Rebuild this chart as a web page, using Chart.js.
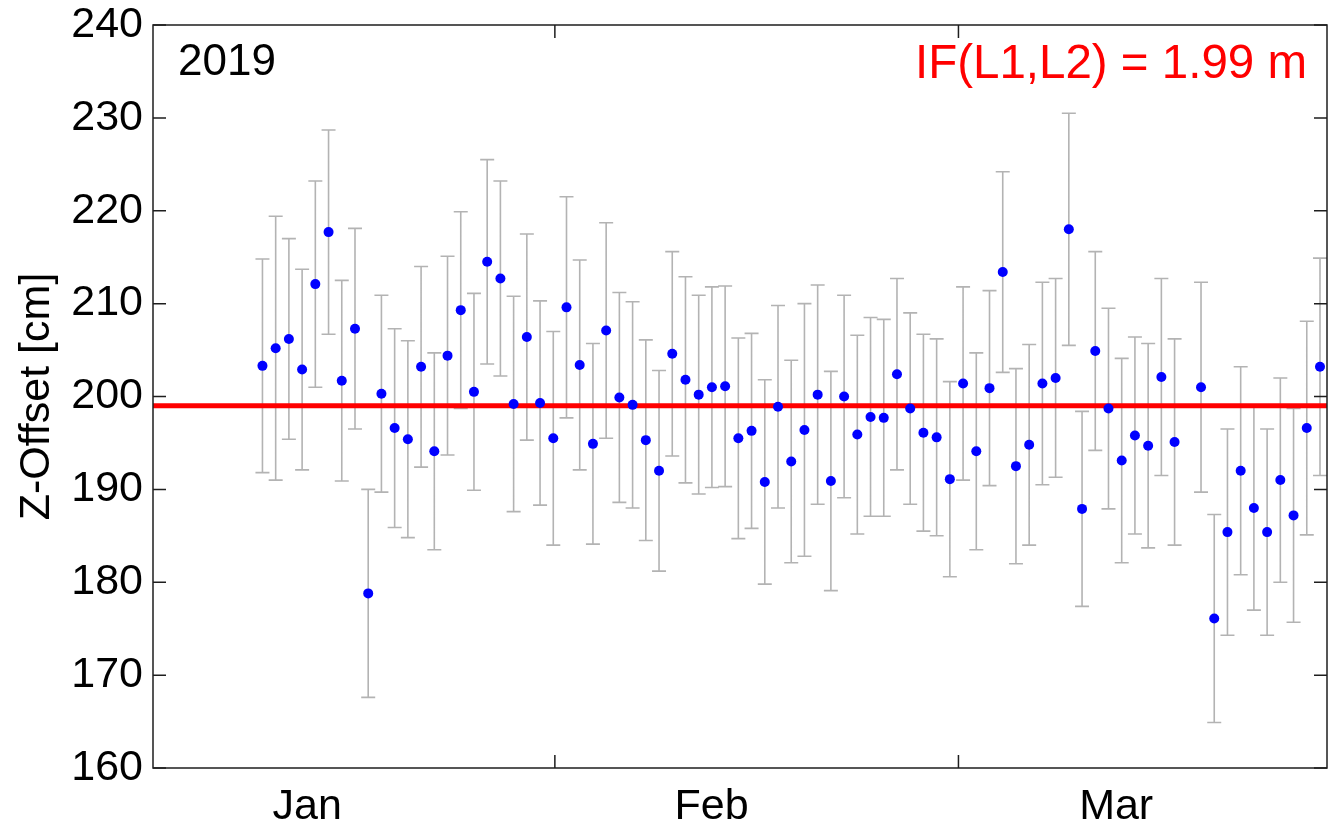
<!DOCTYPE html>
<html>
<head>
<meta charset="utf-8">
<title>Z-Offset 2019</title>
<script src="https://cdn.jsdelivr.net/npm/chart.js@4.4.1/dist/chart.umd.min.js"></script>
<style>
  html, body { margin: 0; padding: 0; background: #ffffff; }
  #wrap { width: 1338px; height: 827px; }
</style>
</head>
<body>
<div id="wrap"><canvas id="chart" width="1338" height="827"></canvas></div>
<script>
// Day of year 2019 for each daily solution (no solution on day 79)
const dayOfYear = [
   9, 10, 11, 12, 13, 14, 15, 16, 17, 18, 19, 20, 21, 22, 23, 24, 25, 26, 27, 28,
  29, 30, 31, 32, 33, 34, 35, 36, 37, 38, 39, 40, 41, 42, 43, 44, 45, 46, 47, 48,
  49, 50, 51, 52, 53, 54, 55, 56, 57, 58, 59, 60, 61, 62, 63, 64, 65, 66, 67, 68,
  69, 70, 71, 72, 73, 74, 75, 76, 77, 78, 80, 81, 82, 83, 84, 85, 86, 87, 88, 89
];

// Estimated antenna Z-offset per day [cm]
const zOffset = [
  203.3, 205.2, 206.2, 202.9, 212.1, 217.7, 201.7, 207.3, 178.8, 200.3,
  196.6, 195.4, 203.2, 194.1, 204.4, 209.3, 200.5, 214.5, 212.7, 199.2,
  206.4, 199.3, 195.5, 209.6, 203.4, 194.9, 207.1, 199.9, 199.1, 195.3,
  192.0, 204.6, 201.8, 200.2, 201.0, 201.1, 195.5, 196.3, 190.8, 198.9,
  193.0, 196.4, 200.2, 190.9, 200.0, 195.9, 197.8, 197.7, 202.4, 198.7,
  196.1, 195.6, 191.1, 201.4, 194.1, 200.9, 213.4, 192.5, 194.8, 201.4,
  202.0, 218.0, 187.9, 204.9, 198.7, 193.1, 195.8, 194.7, 202.1, 195.1,
  201.0, 176.1, 185.4, 192.0, 188.0, 185.4, 191.0, 187.2, 196.6, 203.2
];

// Formal 1-sigma uncertainty of each estimate [cm]
const sigma = [
  11.5, 14.2, 10.8, 10.8, 11.1, 11.0, 10.8, 10.8, 11.2, 10.6,
  10.7, 10.6, 10.8, 10.6, 10.7, 10.6, 10.6, 11.0, 10.5, 11.6,
  11.1, 11.0, 11.5, 11.9, 11.3, 10.8, 11.6, 11.3, 11.1, 10.8,
  10.8, 11.0, 11.1, 10.7, 10.8, 10.8, 10.8, 10.5, 11.0, 10.9,
  10.9, 13.6, 11.8, 11.8, 10.9, 10.7, 10.7, 10.6, 10.3, 10.3,
  10.6, 10.6, 10.5, 10.4, 10.6, 10.5, 10.8, 10.5, 10.8, 10.9,
  10.7, 12.5, 10.5, 10.7, 10.8, 11.0, 10.6, 11.0, 10.6, 11.1,
  11.3, 11.2, 11.1, 11.2, 11.0, 11.1, 11.0, 11.5, 11.5, 11.7
];

// Ionosphere-free L1/L2 solution [cm]
const meanOffset = 199;

const yearLabel = '2019';
const solutionLabel = 'IF(L1,L2) = ' + (meanOffset / 100).toFixed(2) + ' m';

// Month names, where they are written, and the month boundaries (day of year)
const monthNames = ['Jan', 'Feb', 'Mar'];
const monthLabelDays = [12.39, 42.98, 73.58];
const monthBoundaryDays = [31.12, 61.65];

// Axis ranges and y tick step
const xRange = [0.72, 89.53];
const yRange = [160, 240];
const yStep = 10;

const FONT = '"Liberation Sans", Arial, Helvetica, sans-serif';

// Vertical error bars with caps, drawn beneath the markers
const errorBars = {
  id: 'errorBars',
  beforeDatasetsDraw(chart) {
    const { ctx, chartArea: a, scales: { x, y } } = chart;
    ctx.save();
    ctx.beginPath();
    ctx.rect(a.left, a.top, a.right - a.left, a.bottom - a.top);
    ctx.clip();
    ctx.strokeStyle = '#b3b3b3';
    ctx.lineWidth = 1.6;
    ctx.beginPath();
    dayOfYear.forEach((d, i) => {
      const px = x.getPixelForValue(d);
      const top = y.getPixelForValue(zOffset[i] + sigma[i]);
      const bot = y.getPixelForValue(zOffset[i] - sigma[i]);
      ctx.moveTo(px, top); ctx.lineTo(px, bot);
      ctx.moveTo(px - 7, top); ctx.lineTo(px + 7, top);
      ctx.moveTo(px - 7, bot); ctx.lineTo(px + 7, bot);
    });
    ctx.stroke();
    ctx.restore();
  }
};

// Box frame with inward ticks, plus the in-plot annotations
const frame = {
  id: 'frame',
  afterDraw(chart) {
    const { ctx, chartArea: a, scales: { x, y } } = chart;
    ctx.save();
    ctx.strokeStyle = '#1e1e1e';
    ctx.lineWidth = 1.5;
    ctx.strokeRect(a.left, a.top, a.right - a.left, a.bottom - a.top);
    ctx.beginPath();
    y.ticks.forEach(t => {
      const py = y.getPixelForValue(t.value);
      ctx.moveTo(a.left, py); ctx.lineTo(a.left + 13, py);
      ctx.moveTo(a.right, py); ctx.lineTo(a.right - 13, py);
    });
    monthBoundaryDays.forEach(d => {
      const px = x.getPixelForValue(d);
      ctx.moveTo(px, a.bottom); ctx.lineTo(px, a.bottom - 13);
      ctx.moveTo(px, a.top); ctx.lineTo(px, a.top + 13);
    });
    ctx.stroke();

    ctx.textBaseline = 'alphabetic';
    ctx.fillStyle = '#000000';
    ctx.textAlign = 'left';
    ctx.font = '44px ' + FONT;
    ctx.fillText(yearLabel, a.left + 25, a.top + 50);

    ctx.fillStyle = '#ff0000';
    ctx.textAlign = 'right';
    ctx.font = '47.5px ' + FONT;
    ctx.fillText(solutionLabel, a.right - 20, a.top + 53);
    ctx.restore();
  }
};

new Chart(document.getElementById('chart'), {
  data: {
    datasets: [
      {
        type: 'scatter',
        label: 'Z-Offset',
        data: dayOfYear.map((d, i) => ({ x: d, y: zOffset[i] })),
        backgroundColor: '#0000ff',
        borderColor: '#0000ff',
        borderWidth: 0,
        pointRadius: 5,
        pointHoverRadius: 5,
        order: 0
      },
      {
        type: 'line',
        label: 'IF(L1,L2)',
        data: [{ x: xRange[0], y: meanOffset }, { x: xRange[1], y: meanOffset }],
        borderColor: '#ff0000',
        borderWidth: 5,
        pointRadius: 0,
        fill: false,
        order: 1
      }
    ]
  },
  options: {
    responsive: false,
    animation: false,
    devicePixelRatio: 1,
    layout: { padding: { left: 0, right: 11, top: 25, bottom: 0 } },
    plugins: {
      legend: { display: false },
      tooltip: { enabled: false }
    },
    scales: {
      x: {
        type: 'linear',
        position: 'bottom',
        min: xRange[0],
        max: xRange[1],
        grid: { display: false, drawTicks: false },
        border: { display: false },
        afterBuildTicks(scale) {
          scale.ticks = monthLabelDays.map(v => ({ value: v }));
        },
        afterFit(scale) {
          scale.height = 59;
          scale.paddingLeft = 0;
          scale.paddingRight = 0;
        },
        ticks: {
          autoSkip: false,
          maxRotation: 0,
          padding: 13,
          color: '#000000',
          font: { family: FONT, size: 43 },
          callback: (v, i) => monthNames[i]
        }
      },
      y: {
        type: 'linear',
        min: yRange[0],
        max: yRange[1],
        grid: { display: false, drawTicks: false },
        border: { display: false },
        afterFit(scale) {
          scale.width = 153;
          scale.paddingTop = 0;
          scale.paddingBottom = 0;
        },
        ticks: {
          stepSize: yStep,
          padding: 10,
          color: '#000000',
          font: { family: FONT, size: 43 }
        },
        title: {
          display: true,
          text: 'Z-Offset [cm]',
          color: '#000000',
          font: { family: FONT, size: 43 },
          padding: { top: 11, bottom: 0 }
        }
      }
    }
  },
  plugins: [errorBars, frame]
});
</script>
</body>
</html>
